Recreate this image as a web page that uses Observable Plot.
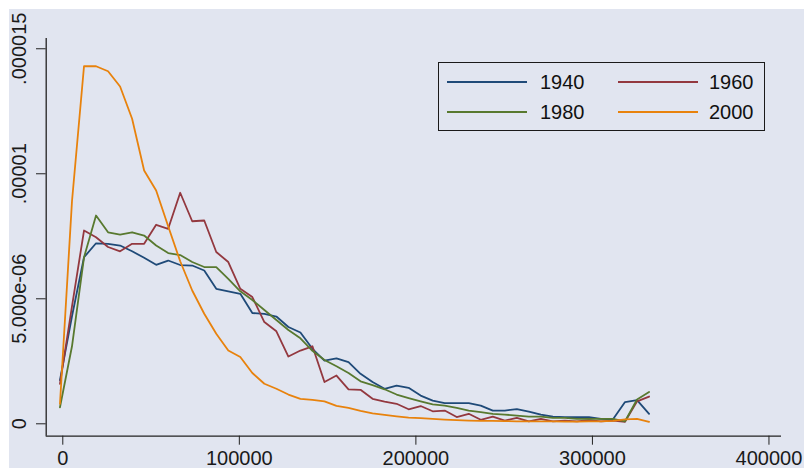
<!DOCTYPE html>
<html>
<head>
<meta charset="utf-8">
<script src="https://cdn.jsdelivr.net/npm/d3@7"></script>
<script src="https://cdn.jsdelivr.net/npm/@observablehq/plot@0.6"></script>
<style>
  html, body { margin: 0; padding: 0; background: #ffffff; }
  #wrap { position: relative; width: 804px; height: 468px; overflow: hidden; background: #ffffff; font-family: "Liberation Sans", Arial, sans-serif; }
  #chart { position: absolute; left: 9px; top: 9px; width: 795px; height: 459px; overflow: hidden; background: #e1e5f0; }
  #chart svg { overflow: hidden; display: block; }
  #legend { position: absolute; left: 438px; top: 62px; width: 325px; height: 67px; border: 1px solid #1a1a1a; background: #e1e5f0; }
  #legend .sw { position: absolute; height: 2px; }
  #legend .lb { position: absolute; font-size: 20px; line-height: 22px; color: #111; }
</style>
</head>
<body>
<div id="wrap">
  <div id="chart"></div>
  <div id="legend"></div>
</div>
<script>
// ---- data (density values in units of 1e-6) ----
const years = ["1940", "1960", "1980", "2000"];
const colors = ["#1f4a78", "#93383f", "#58792f", "#e8820c"];

const xGrid = [-1600, 5210, 12020, 18830, 25640, 32450, 39260, 46070, 52880, 59690,
  66500, 73310, 80120, 86930, 93740, 100550, 107360, 114170, 120980, 127790,
  134600, 141410, 148220, 155030, 161840, 168650, 175460, 182270, 189080, 195890,
  202700, 209510, 216320, 223130, 229940, 236750, 243560, 250370, 257180, 263990,
  270800, 277610, 284420, 291230, 298040, 304850, 311660, 318470, 325280, 332090];

const d1940 = [1.75, 4.3, 6.66, 7.22, 7.2, 7.13, 6.9, 6.64, 6.36, 6.53,
  6.35, 6.33, 6.13, 5.4, 5.3, 5.2, 4.43, 4.4, 4.29, 3.87,
  3.65, 3.0, 2.53, 2.62, 2.47, 2.0, 1.67, 1.4, 1.53, 1.44,
  1.13, 0.93, 0.83, 0.83, 0.83, 0.73, 0.53, 0.53, 0.59, 0.49,
  0.37, 0.29, 0.27, 0.27, 0.27, 0.2, 0.18, 0.87, 0.95, 0.4];

const d1960 = [1.6, 4.7, 7.73, 7.46, 7.07, 6.9, 7.2, 7.2, 7.96, 7.8,
  9.24, 8.1, 8.13, 6.87, 6.47, 5.4, 5.07, 4.07, 3.7, 2.69,
  2.93, 3.1, 1.67, 1.93, 1.38, 1.36, 1.0, 0.89, 0.8, 0.58,
  0.71, 0.5, 0.53, 0.27, 0.4, 0.16, 0.29, 0.13, 0.24, 0.1,
  0.2, 0.1, 0.13, 0.1, 0.15, 0.1, 0.13, 0.08, 0.9, 1.09];

const d1980 = [0.66, 3.1, 6.66, 8.33, 7.66, 7.57, 7.66, 7.53, 7.13, 6.83,
  6.75, 6.47, 6.27, 6.27, 5.8, 5.3, 4.95, 4.55, 4.15, 3.75,
  3.42, 2.92, 2.55, 2.3, 2.03, 1.7, 1.55, 1.38, 1.17, 1.03,
  0.9, 0.78, 0.73, 0.64, 0.53, 0.47, 0.4, 0.37, 0.33, 0.29,
  0.29, 0.24, 0.24, 0.2, 0.2, 0.2, 0.2, 0.1, 0.97, 1.27];

const d2000 = [0.8, 8.9, 14.3, 14.3, 14.1, 13.49, 12.2, 10.13, 9.33, 7.9,
  6.5, 5.33, 4.4, 3.6, 2.93, 2.67, 2.03, 1.6, 1.4, 1.17,
  1.0, 0.96, 0.9, 0.72, 0.64, 0.52, 0.42, 0.36, 0.3, 0.25,
  0.23, 0.2, 0.17, 0.15, 0.13, 0.12, 0.12, 0.11, 0.1, 0.1,
  0.1, 0.1, 0.09, 0.09, 0.1, 0.1, 0.12, 0.18, 0.2, 0.08];

const xTicks = [0, 100000, 200000, 300000, 400000];
const xTickLabels = ["0", "100000", "200000", "300000", "400000"];
const yTicks = [0, 5, 10, 15];
const yTickLabels = ["0", "5.000e-06", ".00001", ".000015"];

// ---- build table ----
const series = [d1940, d1960, d1980, d2000];
const rows = years.flatMap((yr, s) => xGrid.map((x, i) => ({ x, y: series[s][i], year: yr })));

const xDomain = [-9400, 407100];
const yDomain = [-0.496, 15.41];

const chart = Plot.plot({
  width: 795,
  height: 459,
  marginLeft: 36.7,
  marginRight: 23,
  marginTop: 29,
  marginBottom: 32.3,
  style: { background: "transparent", fontFamily: "'Liberation Sans', Arial, sans-serif", fontSize: "20px", color: "#1a1a1a", overflow: "hidden" },
  x: { domain: xDomain },
  y: { domain: yDomain },
  color: { domain: years, range: colors },
  marks: [
    Plot.ruleX([xDomain[0]], { stroke: "#222", strokeWidth: 1.3 }),
    Plot.ruleY([yDomain[0]], { stroke: "#222", strokeWidth: 1.3 }),
    Plot.axisX({ ticks: xTicks, tickSize: 9, tickPadding: 6, fontSize: 20, label: null, stroke: "#222",
      tickFormat: (d) => xTickLabels[xTicks.indexOf(d)] }),
    Plot.axisY({ ticks: yTicks, tickSize: 9.7, label: null, stroke: "#222", tickFormat: () => "" }),
    Plot.text(yTicks, { y: (d) => d, text: (d, i) => yTickLabels[i], frameAnchor: "left", dx: -26.3,
      rotate: -90, textAnchor: "middle", lineAnchor: "middle", fontSize: 20, fill: "#1a1a1a" }),
    Plot.line(rows, { x: "x", y: "y", z: "year", stroke: "year", strokeWidth: 1.8, curve: "linear" })
  ]
});
document.getElementById("chart").appendChild(chart);

// ---- legend ----
const legend = d3.select("#legend");
const pos = [
  { sw: 8, lb: 101, top: 19 },
  { sw: 179, lb: 270, top: 19 },
  { sw: 8, lb: 101, top: 49 },
  { sw: 179, lb: 270, top: 49 }
];
years.forEach((yr, i) => {
  const p = pos[i];
  legend.append("div").attr("class", "sw")
    .style("left", p.sw + "px").style("top", (p.top - 1) + "px")
    .style("width", "80px").style("background", colors[i]);
  legend.append("div").attr("class", "lb")
    .style("left", p.lb + "px").style("top", (p.top - 11) + "px")
    .text(yr);
});
</script>
</body>
</html>
